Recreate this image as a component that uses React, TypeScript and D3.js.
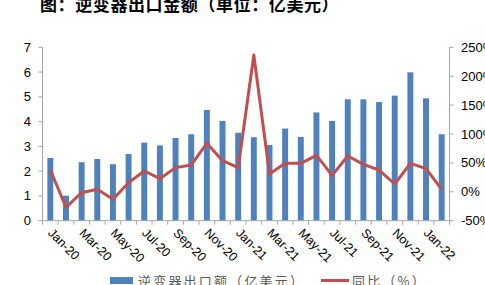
import React from "react";
import * as d3 from "d3";

const months = [
  "Jan-20","Feb-20","Mar-20","Apr-20","May-20","Jun-20","Jul-20","Aug-20","Sep-20","Oct-20","Nov-20","Dec-20",
  "Jan-21","Feb-21","Mar-21","Apr-21","May-21","Jun-21","Jul-21","Aug-21","Sep-21","Oct-21","Nov-21","Dec-21",
  "Jan-22","Feb-22",
];
const exportValues = [
  2.53, 1.01, 2.36, 2.49, 2.28, 2.69, 3.15, 3.04, 3.34, 3.49, 4.47, 4.03,
  3.55, 3.37, 3.06, 3.72, 3.38, 4.37, 4.03, 4.9, 4.9, 4.79, 5.05, 5.99,
  4.94, 3.49,
];
const yoyValues = [
  37.7, -26.8, -1.5, 4.3, -13, 15.8, 36, 22.7, 41.8, 46.4, 83.9, 53.8,
  41.7, 236.7, 30.8, 49.3, 49.3, 63, 28.5, 62, 47.5, 37.7, 13.5, 49.3,
  40, 4.3,
];
const leftTicks = [0, 1, 2, 3, 4, 5, 6, 7];
const rightTicks = [-50, 0, 50, 100, 150, 200, 250];
const titleText = "图：逆变器出口金额（单位：亿美元）";
const barLabel = "逆变器出口额（亿美元）";
const lineLabel = "同比（%）";

const W = 485, H = 285;
const left = 42.5, right = 449.5, top = 47.3, bottom = 220.7;
const BLUE = "#4F81BD", RED = "#C0504D", AXIS = "#A6A6A6";
const LAT = "'Liberation Sans', Arial, 'Noto Sans CJK SC', sans-serif";
const CJK = "'Noto Sans CJK SC', sans-serif";

export default function App() {
  const x = d3.scaleBand<string>().domain(months).range([left, right]).paddingInner(0.62).paddingOuter(0.31);
  const xb = d3.scaleBand<string>().domain(months).range([left, right]);
  const yL = d3.scaleLinear().domain([0, 7]).range([bottom, top]);
  const yR = d3.scaleLinear().domain([-50, 250]).range([bottom, top]);
  const line = d3.line<number>()
    .x((_, i) => (xb(months[i]) as number) + xb.bandwidth() / 2)
    .y((d) => yR(d));

  return (
    <svg width={W} height={H} style={{ position: "absolute", left: 0, top: 0 }}>
      <rect width={W} height={H} fill="#fff" />
      <text x={40} y={11} fontFamily={CJK} fontWeight="bold" fontSize={17} letterSpacing={0.6} fill="#000">{titleText}</text>

      {exportValues.map((v, i) => (
        <rect key={i} x={x(months[i])} y={yL(v)} width={x.bandwidth()} height={bottom - yL(v)} fill={BLUE} />
      ))}

      {/* left axis */}
      <line x1={left} x2={left} y1={top} y2={bottom} stroke={AXIS} />
      {leftTicks.map((t) => (
        <g key={t}>
          <line x1={left - 4} x2={left} y1={yL(t)} y2={yL(t)} stroke={AXIS} />
          <text x={31} y={yL(t)} dy="0.35em" textAnchor="end" fontFamily={LAT} fontSize={13} fill="#000">{t}</text>
        </g>
      ))}
      {/* right axis */}
      <line x1={right} x2={right} y1={top} y2={bottom} stroke={AXIS} />
      {rightTicks.map((t) => (
        <g key={t}>
          <line x1={right} x2={right + 4} y1={yR(t)} y2={yR(t)} stroke={AXIS} />
          <text x={461} y={yR(t)} dy="0.35em" textAnchor="start" fontFamily={LAT} fontSize={13} fill="#000">{t}%</text>
        </g>
      ))}
      {/* bottom axis */}
      <line x1={left} x2={right} y1={bottom} y2={bottom} stroke={AXIS} />
      {months.map((m, i) => (
        <line key={m} x1={left + i * xb.bandwidth()} x2={left + i * xb.bandwidth()} y1={bottom} y2={bottom + 4} stroke={AXIS} />
      ))}
      <line x1={right} x2={right} y1={bottom} y2={bottom + 4} stroke={AXIS} />
      {months.map((m, i) => i % 2 === 0 ? (
        <text key={m} transform={`translate(${(xb(m) as number) + xb.bandwidth() / 2 - 3},${bottom + 13}) rotate(45)`}
          fontFamily={LAT} fontSize={12.5} fill="#000">{m}</text>
      ) : null)}

      <path d={line(yoyValues) || ""} fill="none" stroke={RED} strokeWidth={3} strokeLinejoin="round" />

      {/* legend */}
      <rect x={110} y={277} width={23} height={7} fill={BLUE} />
      <text x={138} y={286} fontFamily={CJK} fontSize={13} letterSpacing={2.2} fill="#595959">{barLabel}</text>
      <line x1={321} x2={349} y1={280.5} y2={280.5} stroke={RED} strokeWidth={3} />
      <text x={352} y={286} fontFamily={CJK} fontSize={13} letterSpacing={2.2} fill="#595959">{lineLabel}</text>
    </svg>
  );
}
